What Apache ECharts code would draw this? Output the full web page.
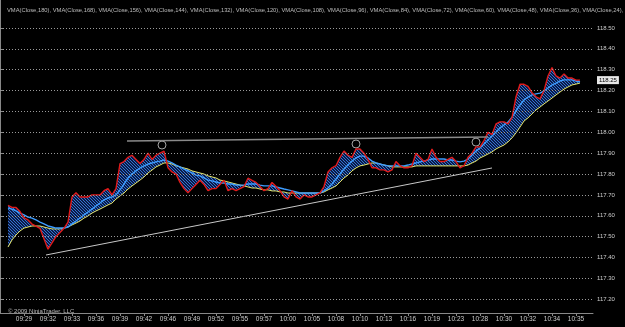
<!DOCTYPE html>
<html><head><meta charset="utf-8">
<script src="https://cdn.jsdelivr.net/npm/echarts@6/dist/echarts.min.js"></script>
<style>html,body{margin:0;padding:0;background:#000}#c{width:625px;height:327px}</style>
</head><body><div id="c"></div>
<script>
const xLabels = ['09:29','09:32','09:33','09:36','09:39','09:42','09:46','09:49','09:52','09:55','09:57','10:00',
                 '10:05','10:08','10:10','10:13','10:16','10:19','10:23','10:28','10:30','10:32','10:34','10:35'];
const yTicks = [117.2,117.3,117.4,117.5,117.6,117.7,117.8,117.9,118.0,118.1,118.2,118.3,118.4,118.5];
const legendPeriods = [180,168,156,144,132,120,108,96,84,72,60,48,36,24,12];
const START = 2; // bar index of first value
const price = [
117.65,117.64,117.64,117.62,117.59,117.58,117.56,117.55,117.54,117.49,
117.44,117.47,117.50,117.52,117.54,117.57,117.69,117.71,117.69,117.69,
117.69,117.70,117.70,117.70,117.72,117.73,117.70,117.73,117.85,117.86,
117.88,117.89,117.87,117.85,117.87,117.90,117.87,117.89,117.90,117.91,
117.83,117.81,117.80,117.76,117.73,117.71,117.73,117.75,117.77,117.75,
117.72,117.73,117.73,117.75,117.77,117.72,117.73,117.72,117.73,117.74,
117.78,117.77,117.76,117.74,117.72,117.73,117.76,117.74,117.72,117.69,
117.68,117.72,117.69,117.68,117.70,117.69,117.69,117.70,117.71,117.74,
117.81,117.83,117.84,117.88,117.91,117.89,117.88,117.92,117.92,117.90,
117.87,117.83,117.83,117.82,117.82,117.81,117.82,117.86,117.84,117.83,
117.83,117.84,117.90,117.88,117.86,117.87,117.92,117.88,117.86,117.86,
117.87,117.88,117.86,117.83,117.84,117.88,117.90,117.93,117.93,117.96,
118.00,117.99,118.04,118.05,118.05,118.04,118.07,118.17,118.23,118.23,
118.22,118.19,118.17,118.16,118.20,118.27,118.31,118.27,118.26,118.28,
118.26,118.26,118.25,118.25];
const fastVMA = [
117.637,117.632,117.623,117.613,117.604,117.594,117.589,117.580,117.570,117.561,
117.551,117.546,117.541,117.541,117.541,117.546,117.561,117.575,117.589,117.604,
117.618,117.632,117.647,117.661,117.676,117.685,117.690,117.700,117.724,117.752,
117.781,117.800,117.815,117.829,117.839,117.848,117.853,117.858,117.862,117.867,
117.862,117.853,117.843,117.834,117.824,117.815,117.805,117.795,117.791,117.781,
117.771,117.767,117.762,117.757,117.757,117.752,117.752,117.747,117.747,117.747,
117.752,117.752,117.752,117.747,117.743,117.743,117.743,117.738,117.733,117.728,
117.724,117.719,117.714,117.709,117.709,117.709,117.709,117.709,117.709,117.719,
117.733,117.752,117.776,117.800,117.824,117.843,117.862,117.877,117.886,117.886,
117.877,117.862,117.853,117.848,117.843,117.839,117.839,117.839,117.839,117.839,
117.843,117.848,117.853,117.858,117.862,117.867,117.872,117.872,117.872,117.872,
117.867,117.867,117.862,117.858,117.862,117.872,117.891,117.910,117.925,117.944,
117.963,117.982,118.001,118.021,118.035,118.049,118.073,118.102,118.131,118.155,
118.169,118.179,118.184,118.188,118.198,118.212,118.227,118.236,118.246,118.251,
118.251,118.251,118.246,118.241];
const slowVMA = [
117.450,117.484,117.508,117.527,117.541,117.546,117.551,117.551,117.551,117.546,
117.541,117.537,117.537,117.537,117.541,117.546,117.556,117.565,117.575,117.589,
117.599,117.613,117.623,117.632,117.642,117.652,117.661,117.680,117.695,117.709,
117.728,117.743,117.757,117.771,117.786,117.805,117.819,117.834,117.843,117.853,
117.853,117.848,117.839,117.834,117.829,117.824,117.815,117.810,117.805,117.800,
117.791,117.786,117.781,117.771,117.767,117.762,117.757,117.752,117.747,117.743,
117.738,117.733,117.733,117.728,117.724,117.724,117.719,117.719,117.714,117.714,
117.709,117.709,117.709,117.709,117.709,117.709,117.709,117.709,117.709,117.714,
117.724,117.733,117.743,117.762,117.781,117.795,117.815,117.829,117.839,117.843,
117.848,117.853,117.853,117.848,117.843,117.839,117.834,117.834,117.834,117.834,
117.834,117.834,117.839,117.839,117.839,117.839,117.839,117.839,117.839,117.839,
117.839,117.839,117.839,117.839,117.839,117.843,117.853,117.862,117.877,117.886,
117.896,117.906,117.920,117.930,117.939,117.954,117.973,117.997,118.025,118.054,
118.069,118.088,118.107,118.121,118.136,118.150,118.164,118.179,118.193,118.207,
118.217,118.227,118.231,118.236];
const trendLower = [[11.5, 117.412], [123, 117.829]];
const trendUpper = [[31.75, 117.958], [122, 117.977]];
const pivots = [[40.5, 117.939], [89, 117.944], [119, 117.953]];
const lastPrice = 118.25;

const pairs = arr => arr.map((v, k) => [START + k, v]);

// hatch pattern for the VMA ribbon
const pc = document.createElement('canvas');
pc.width = 3; pc.height = 3;
const g = pc.getContext('2d');
g.fillStyle = 'rgba(14,42,110,0.65)';
g.fillRect(0, 0, 3, 3);
g.strokeStyle = '#3b7ddf';
g.lineWidth = 0.9;
g.beginPath(); g.moveTo(-1, -1); g.lineTo(4, 4); g.stroke();

const chart = echarts.init(document.getElementById('c'), null, {renderer: 'canvas'});
const font = 'Liberation Sans, Arial, sans-serif';
chart.setOption({
  backgroundColor: '#000',
  animation: false,
  title: [
    {text: legendPeriods.map(p => 'VMA(Close,' + p + ')').join(', '), left: 2, top: 2,
     textStyle: {color: '#bbbbbb', fontSize: 5.8, fontWeight: 'normal', fontFamily: font}},
    {text: '\u00A9 2009 NinjaTrader, LLC', left: 3, top: 303,
     textStyle: {color: '#bbbbbb', fontSize: 6, fontWeight: 'normal', fontFamily: font}}
  ],
  grid: {left: 0, right: 32, top: 0, bottom: 14},
  xAxis: {
    type: 'value', min: 0, max: 148.25, interval: 6,
    axisLine: {lineStyle: {color: '#888'}},
    axisTick: {length: 3, lineStyle: {color: '#888'}},
    axisLabel: {color: '#cccccc', fontSize: 6.5, margin: 3, fontFamily: font,
      showMinLabel: false, showMaxLabel: false,
      formatter: v => xLabels[Math.round(v / 6) - 1] || ''},
    splitLine: {show: false}
  },
  yAxis: {
    type: 'value', position: 'right', min: 117.134, max: 118.634,
    axisLine: {show: true, lineStyle: {color: '#888'}},
    axisTick: {show: true, length: 3, customValues: yTicks, lineStyle: {color: '#888'}},
    axisLabel: {customValues: yTicks, color: '#cccccc', fontSize: 6, margin: 4, fontFamily: font,
      formatter: v => v.toFixed(2)},
    splitLine: {show: false}
  },
  series: [
    {type: 'line', name: 'grid', data: [], silent: true,
     markLine: {silent: true, symbol: 'none', label: {show: false}, animation: false,
       lineStyle: {color: '#9a9a9a', type: [1, 2], width: 1},
       data: yTicks.map(v => ({yAxis: v}))}},
    {type: 'custom', name: 'ribbon', silent: true, clip: true,
     data: [[START, price[0]]],
     renderItem: (params, api) => {
       const top = price.map((v, k) => api.coord([START + k, v]));
       const bot = slowVMA.map((v, k) => api.coord([START + k, v])).reverse();
       return {type: 'polygon', shape: {points: top.concat(bot)},
               style: {fill: {image: pc, repeat: 'repeat'}}};
     }},
    {type: 'line', name: 'slow', data: pairs(slowVMA), symbol: 'none', silent: true,
     lineStyle: {color: '#e6e66a', width: 1}},
    {type: 'line', name: 'fast', data: pairs(fastVMA), symbol: 'none', silent: true,
     lineStyle: {color: '#3d9cff', width: 1.4}},
    {type: 'line', name: 'price', data: pairs(price), symbol: 'none', silent: true,
     lineStyle: {color: '#e01a1a', width: 1.4}},
    {type: 'line', name: 'lastPrice', data: [], silent: true,
     markLine: {silent: true, symbol: 'none', animation: false,
       lineStyle: {color: 'rgba(0,0,0,0)', width: 1, type: 'solid'},
       label: {show: true, position: 'end', formatter: lastPrice.toFixed(2), distance: 4,
           backgroundColor: '#e8e8e8', color: '#000000', fontSize: 6, padding: [1, 2], fontFamily: font},
       data: [{yAxis: lastPrice}]}},
    {type: 'line', name: 'trendLower', data: trendLower, symbol: 'none', silent: true,
     lineStyle: {color: '#c8c8c8', width: 1}},
    {type: 'line', name: 'trendUpper', data: trendUpper, symbol: 'none', silent: true,
     lineStyle: {color: '#8a8a8a', width: 1.5}},
    {type: 'scatter', name: 'pivots', data: pivots, symbol: 'circle', symbolSize: 8, silent: true,
     itemStyle: {color: 'rgba(0,0,0,0)', borderColor: '#cfcfcf', borderWidth: 1}}
  ]
});
</script></body></html>
